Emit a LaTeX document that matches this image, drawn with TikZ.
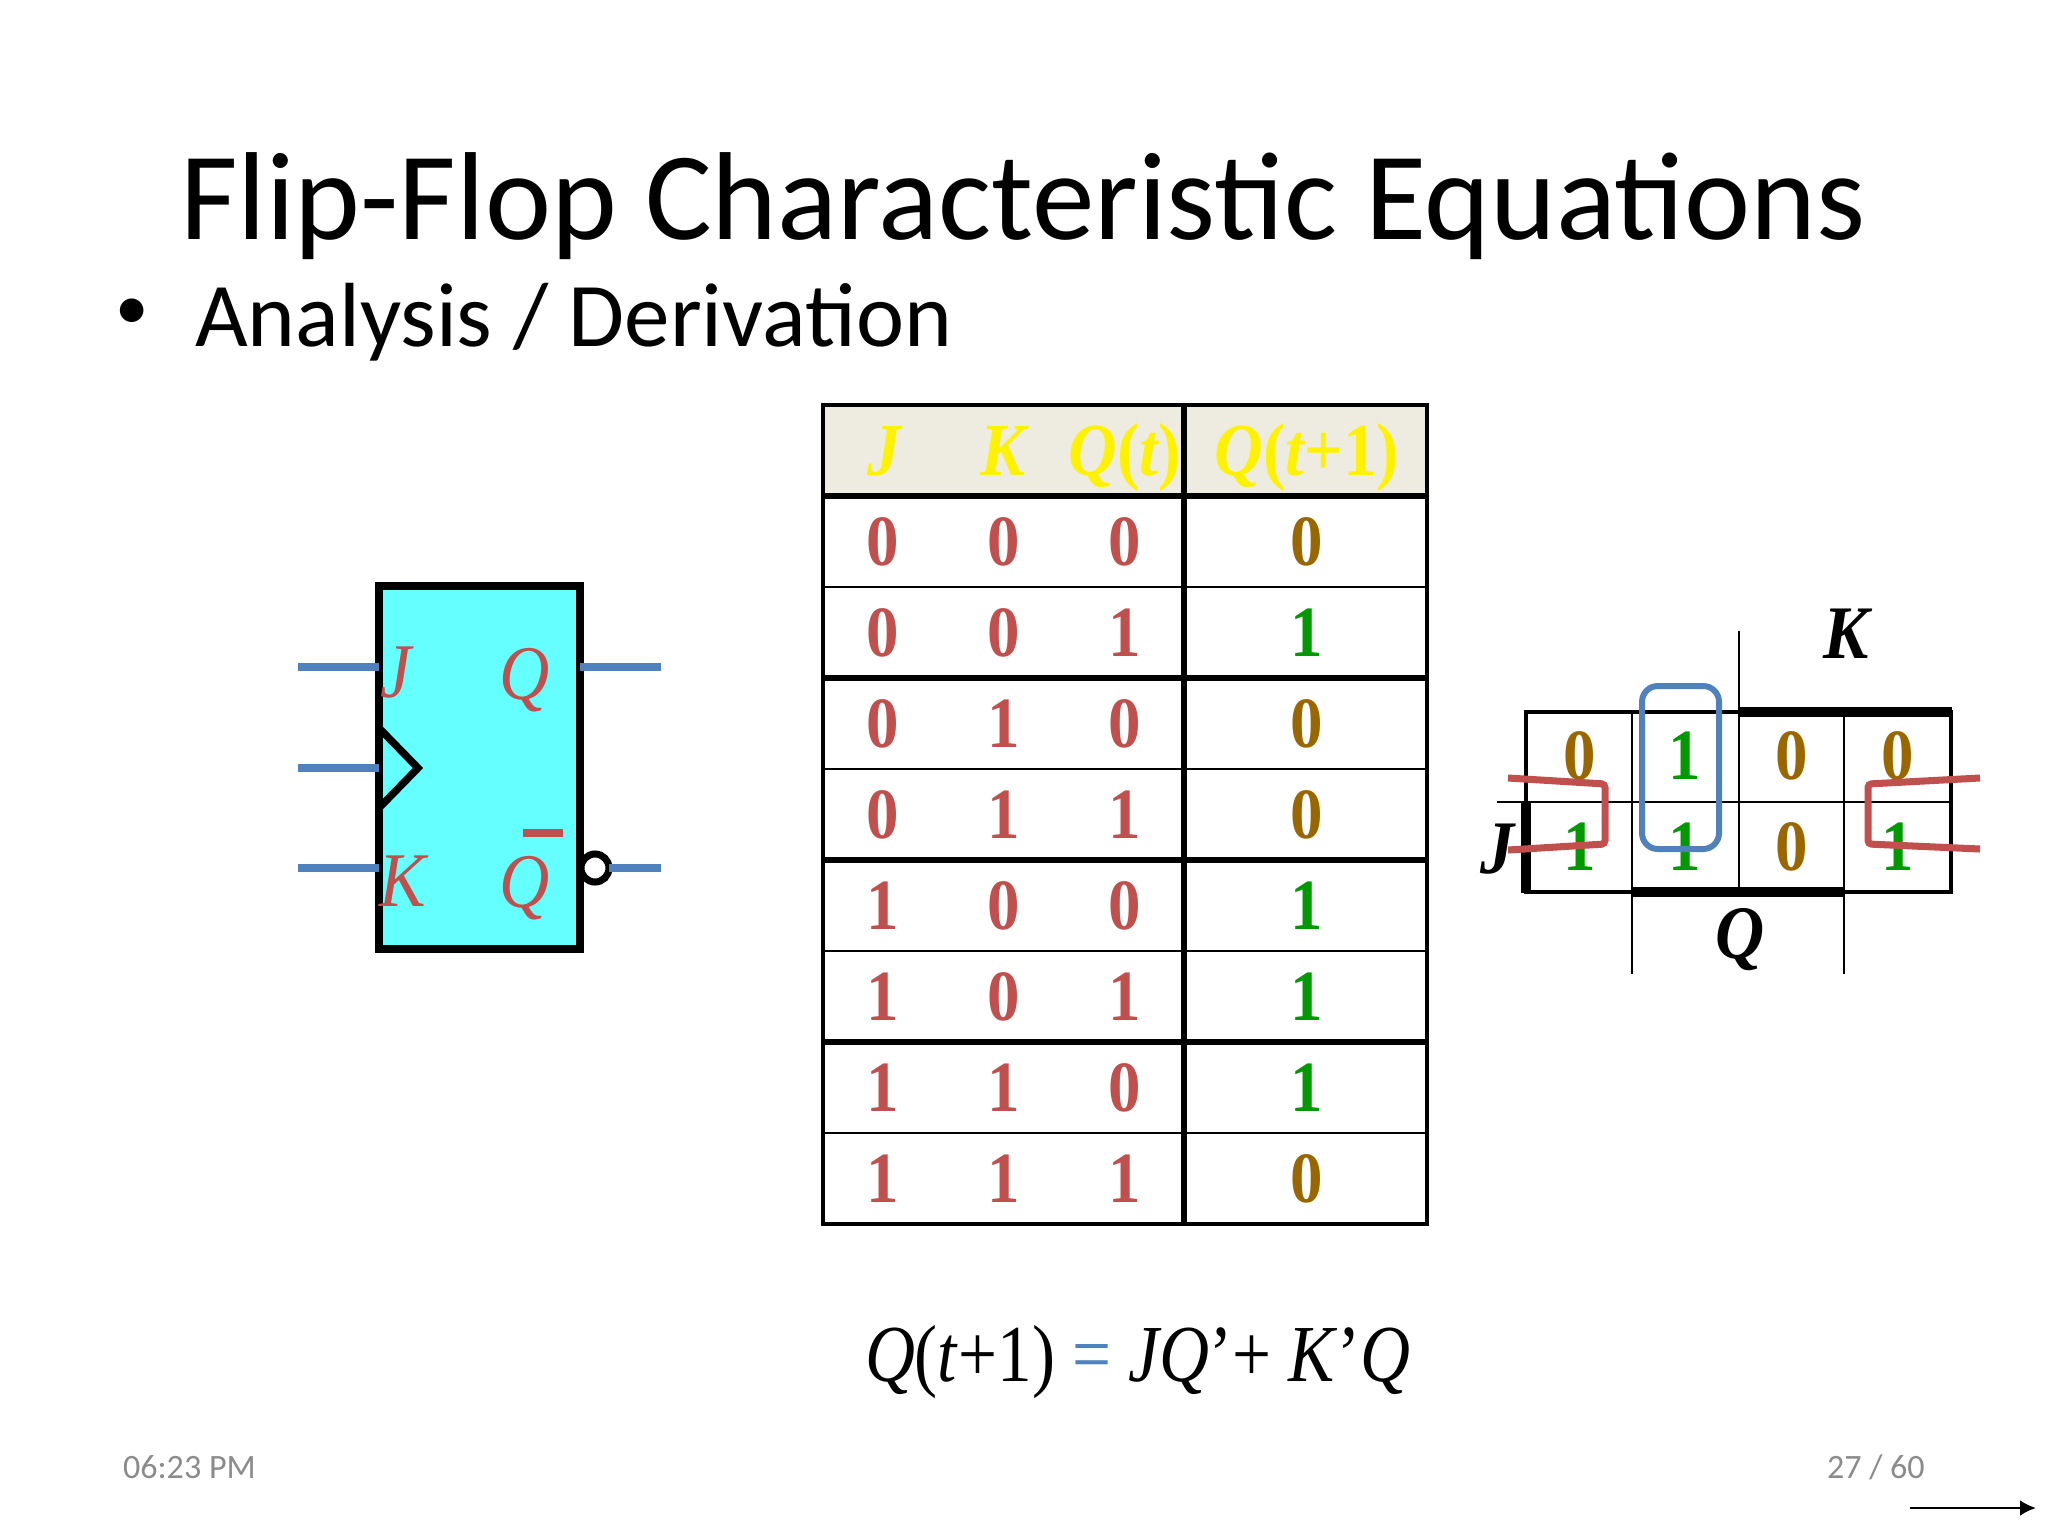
\documentclass[tikz,border=0pt]{standalone}
\usepackage{fontspec}
\usepackage{tikz}
\usetikzlibrary{arrows.meta,calc}
\setmainfont{Carlito}
\newfontfamily\tabfont[FakeStretch=0.9]{Liberation Serif}
\newfontfamily\eqfont[FakeStretch=0.855]{Liberation Serif}
\definecolor{trred}{HTML}{C0504D}
\definecolor{trblue}{HTML}{4F81BD}
\definecolor{trgreen}{HTML}{009900}
\definecolor{trbrown}{HTML}{996600}
\definecolor{trcyan}{HTML}{66FFFF}
\definecolor{trhead}{HTML}{EEECE1}
\definecolor{trgray}{HTML}{8B8B8B}
\tikzset{
  bitbase/.style={font=\tabfont\fontsize{20.5}{20.5}\selectfont\bfseries, anchor=base},
  bitin/.style={bitbase, text=trred},
  bitzero/.style={bitbase, text=trbrown},
  bitone/.style={bitbase, text=trgreen},
  headtxt/.style={font=\tabfont\fontsize{21.3}{21.3}\selectfont\bfseries\itshape, text=yellow, anchor=base},
  ffpin/.style={font=\tabfont\fontsize{22}{22}\selectfont\itshape, text=trred, anchor=base},
  maptxt/.style={font=\tabfont\fontsize{21.5}{21.5}\selectfont\bfseries\itshape, anchor=base},
  lead/.style={line width=2.3pt, trblue},
  wrap/.style={line width=2pt, trred, rounded corners=1pt},
  footer/.style={font=\fontsize{9.7}{9.7}\selectfont, text=trgray, anchor=base west}
}
\begin{document}
\begin{tikzpicture}[x=0.01cm, y=-0.01cm, outer sep=0pt, inner sep=0pt, >={Latex[length=0.16cm,width=0.16cm]}]
\useasboundingbox (0,0) rectangle (2048,1536);

\node at (1023, 239) [anchor=base, font=\fontsize{35.6}{35.6}\selectfont] (title) {Flip-Flop Characteristic Equations};
\node at (132, 329) [anchor=base, font=\fontsize{19}{19}\selectfont] (bullet) {•};
\node at (195, 346) [anchor=base west, font=\fontsize{25.9}{25.9}\selectfont] (sub) {Analysis / Derivation};

\node at (479.5, 767.5) [draw, fill=trcyan, line width=2.3pt, minimum width=2.01cm, minimum height=3.63cm] (FF) {};
\coordinate (Jin) at (298, 667);
\coordinate (Cin) at (298, 768);
\coordinate (Kin) at (298, 868);
\coordinate (Qout) at (661, 667);
\coordinate (Nout) at (661, 868);
\draw [lead] (Jin) -- (FF.west |- Jin);
\draw [lead] (Cin) -- (FF.west |- Cin);
\draw [lead] (Kin) -- (FF.west |- Kin);
\draw [lead] (FF.east |- Qout) -- (Qout);
\node at (595, 868) [draw, circle, fill=white, line width=2pt, minimum size=0.28cm] (bub) {};
\draw [lead] (bub.east) -- (Nout);
\draw [line width=2.1pt, line join=miter] (379, 728) -- (418, 768) -- (379, 808);
\node at (396, 697) [ffpin] (Jpin) {J};
\node at (403, 906) [ffpin] (Kpin) {K};
\node at (525, 699) [ffpin] (Qpin) {Q};
\node at (525, 907) [ffpin] (Npin) {Q};
\draw [line width=2.5pt, trred] (523, 833) -- (563, 833);

\fill [trhead] (823, 405) rectangle (1427, 496);
\draw [line width=0.6pt] (823, 587) -- (1427, 587);
\draw [line width=0.6pt] (823, 769) -- (1427, 769);
\draw [line width=0.6pt] (823, 951) -- (1427, 951);
\draw [line width=0.6pt] (823, 1133) -- (1427, 1133);
\draw [line width=1.7pt] (823, 496) -- (1427, 496);
\draw [line width=1.7pt] (823, 678) -- (1427, 678);
\draw [line width=1.7pt] (823, 860) -- (1427, 860);
\draw [line width=1.7pt] (823, 1042) -- (1427, 1042);
\draw [line width=1.6pt] (1184, 405) -- (1184, 1224);
\draw [line width=1.4pt] (823, 405) rectangle (1427, 1224);

\node at (884, 475) [headtxt] (hJ) {J};
\node at (1003, 475) [headtxt] (hK) {K};
\node at (1125, 475) [headtxt] (hQ) {Q{\upshape(}t{\upshape)}};
\node at (1307, 475) [headtxt] (hN) {Q{\upshape(}t{\upshape+1)}};

\node at (883, 565) [bitin] (a1) {0}; \node at (1004, 565) [bitin] (b1) {0}; \node at (1125, 565) [bitin] (c1) {0}; \node at (1307, 565) [bitzero] (d1) {0};
\node at (883, 656) [bitin] (a2) {0}; \node at (1004, 656) [bitin] (b2) {0}; \node at (1125, 656) [bitin] (c2) {1}; \node at (1307, 656) [bitone] (d2) {1};
\node at (883, 747) [bitin] (a3) {0}; \node at (1004, 747) [bitin] (b3) {1}; \node at (1125, 747) [bitin] (c3) {0}; \node at (1307, 747) [bitzero] (d3) {0};
\node at (883, 838) [bitin] (a4) {0}; \node at (1004, 838) [bitin] (b4) {1}; \node at (1125, 838) [bitin] (c4) {1}; \node at (1307, 838) [bitzero] (d4) {0};
\node at (883, 929) [bitin] (a5) {1}; \node at (1004, 929) [bitin] (b5) {0}; \node at (1125, 929) [bitin] (c5) {0}; \node at (1307, 929) [bitone] (d5) {1};
\node at (883, 1020) [bitin] (a6) {1}; \node at (1004, 1020) [bitin] (b6) {0}; \node at (1125, 1020) [bitin] (c6) {1}; \node at (1307, 1020) [bitone] (d6) {1};
\node at (883, 1111) [bitin] (a7) {1}; \node at (1004, 1111) [bitin] (b7) {1}; \node at (1125, 1111) [bitin] (c7) {0}; \node at (1307, 1111) [bitone] (d7) {1};
\node at (883, 1202) [bitin] (a8) {1}; \node at (1004, 1202) [bitin] (b8) {1}; \node at (1125, 1202) [bitin] (c8) {1}; \node at (1307, 1202) [bitzero] (d8) {0};

\draw [line width=1.1pt] (1526, 712) rectangle (1951, 892);
\draw [line width=0.6pt] (1497, 802) -- (1951, 802);
\draw [line width=0.6pt] (1632, 712) -- (1632, 974);
\draw [line width=0.6pt] (1739, 631) -- (1739, 892);
\draw [line width=0.6pt] (1844, 712) -- (1844, 974);
\draw [line width=2.9pt] (1739, 712) -- (1952, 712);
\draw [line width=2.9pt] (1526, 802) -- (1526, 893);
\draw [line width=2.9pt] (1632, 892) -- (1844, 892);

\node at (1580, 779) [bitzero] (m1) {0}; \node at (1685, 779) [bitone] (m2) {1}; \node at (1792, 779) [bitzero] (m3) {0}; \node at (1898, 779) [bitzero] (m4) {0};
\node at (1580, 870) [bitone] (m5) {1}; \node at (1685, 870) [bitone] (m6) {1}; \node at (1792, 870) [bitzero] (m7) {0}; \node at (1898, 870) [bitone] (m8) {1};
\node at (1846, 658) [maptxt] (mK) {K};
\node at (1740, 958) [maptxt] (mQ) {Q};
\node at (1497, 873) [maptxt] (mJ) {J};

\draw [line width=1.7pt, trblue, rounded corners=4.5pt] (1642, 686) rectangle (1719, 849);
\draw [wrap] (1508, 778) -- (1605, 784) -- (1605, 844) -- (1508, 850);
\draw [wrap] (1980, 778) -- (1868, 784) -- (1868, 844) -- (1980, 849);

\node at (865, 1381) [anchor=base west, font=\eqfont\fontsize{23}{23}\selectfont] (eq) {\textit{Q}(\textit{t}+1) \textcolor{trblue}{=} \textit{JQ}’+ \textit{K}’\textit{Q}};

\node at (123, 1478) [footer] (clock) {06:23 PM};
\node at (1827, 1478) [footer] (page) {27 / 60};
\coordinate (navA) at (1910, 1508);
\coordinate (navB) at (2036, 1508);
\draw [->, line width=0.8pt] (navA) -- (navB);
\end{tikzpicture}
\end{document}
